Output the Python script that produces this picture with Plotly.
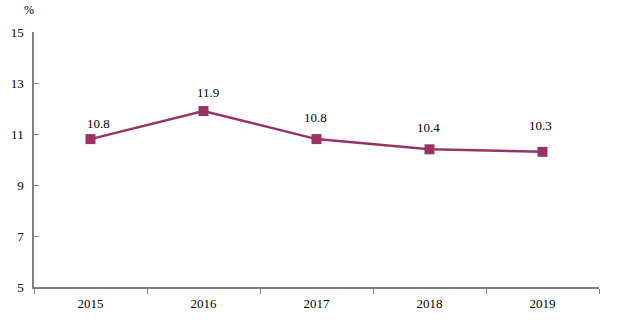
import plotly.graph_objects as go

years = ["2015", "2016", "2017", "2018", "2019"]
values = [10.8, 11.9, 10.8, 10.4, 10.3]
y_ticks = [5, 7, 9, 11, 13, 15]

# label placement offsets (pixels) — styling only
label_dx = [8, 4, -1, -1, -2]
label_dy = [16, 19, 22, 22, 26]

color = "#993366"
serif = "Liberation Serif"
font = dict(family=serif, size=13, color="black")

fig = go.Figure()
fig.add_trace(go.Scatter(
    x=years, y=values, mode="lines+markers",
    line=dict(color=color, width=2.5),
    marker=dict(symbol="square", size=10, color=color),
    hoverinfo="skip", showlegend=False,
))
for i, v in enumerate(values):
    fig.add_annotation(x=i, y=v, xref="x", yref="y", text=f"{v:.1f}", showarrow=False,
                       yshift=label_dy[i], xshift=label_dx[i],
                       font=dict(family=serif, size=13, color="black"))
fig.add_annotation(xref="paper", yref="paper", x=-0.009, y=1.086,
                   xanchor="center", yanchor="middle",
                   text="%", showarrow=False, font=dict(family=serif, size=12, color="black"))

fig.update_layout(
    width=638, height=324,
    margin=dict(l=34, r=39, t=32, b=37),
    paper_bgcolor="white", plot_bgcolor="white",
    font=font,
)
fig.update_xaxes(
    type="category", range=[-0.5, 4.5], tickson="boundaries",
    ticks="outside", ticklen=5, tickcolor="#808080",
    showline=True, linecolor="#808080", linewidth=1.5,
    showgrid=False, zeroline=False, tickfont=font, ticklabelstandoff=4,
)
fig.update_yaxes(
    range=[5, 15], tickvals=y_ticks, ticks="inside", ticklen=5,
    tickcolor="#808080", showline=True, linecolor="#808080", linewidth=1.5,
    showgrid=False, zeroline=False, tickfont=font, ticklabelstandoff=6,
)
fig.write_html("out.html")
